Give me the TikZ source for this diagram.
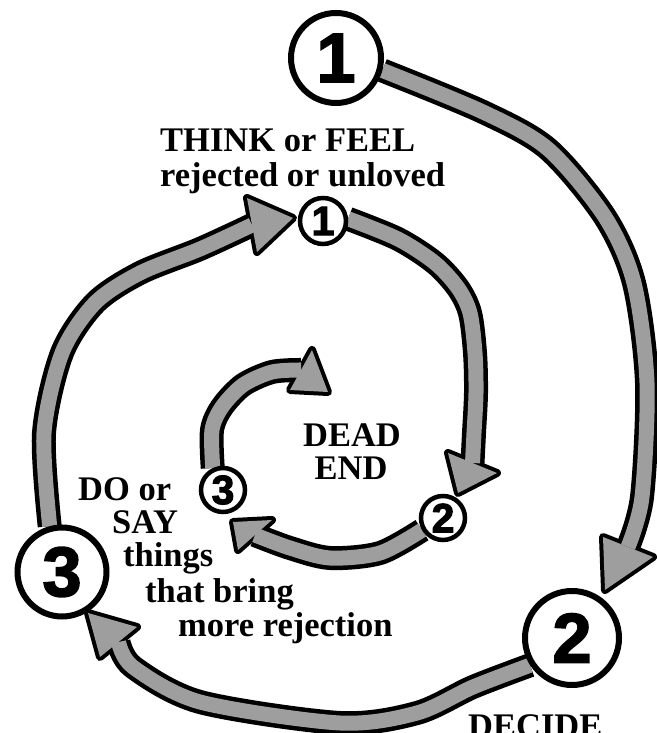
\documentclass[tikz,border=0pt]{standalone}
\usepackage{fontspec}
\setmainfont{Liberation Serif}
\newfontfamily\numfont{Liberation Sans}[BoldFeatures={FakeBold=2.5}]
\usetikzlibrary{backgrounds}
\definecolor{dotgray}{gray}{0.62}
\newcommand\arrowband[4]{%
  \draw[bandout] #1;
  \filldraw[headout] (#2) -- (#3) -- (#4) -- cycle;
  \draw[bandin] #1;
  \fill[headin] (#2) -- (#3) -- (#4) -- cycle;
}
\begin{document}
\begin{tikzpicture}[x=1pt,y=1pt,
  bandout/.style={line width=24pt, draw=black},
  bandin/.style={line width=15pt, draw=dotgray},
  headout/.style={draw=black, fill=black, line width=8pt, line join=round},
  headin/.style={fill=dotgray},
  bigc/.style={circle, draw=black, fill=white, line width=6pt, inner sep=0pt,
    font=\numfont\bfseries\fontsize{70}{70}\selectfont},
  smallc/.style={circle, draw=black, fill=white, line width=4.5pt, inner sep=0pt,
    font=\numfont\bfseries\fontsize{41}{41}\selectfont},
  txt/.style={inner sep=0pt, anchor=base west, font=\bfseries\fontsize{34.5}{34.5}\selectfont},
  ctxt/.style={txt, anchor=base}
]
\clip (0,0) rectangle (656,733);

% circles
\node[bigc, minimum size=90pt] (B1) at (336,675) {1};
\node[bigc, minimum size=94pt] (B2) at (572,95) {2};
\node[bigc, minimum size=89pt] (B3) at (62,161) {3};
\node[smallc, minimum size=46pt] (S1) at (323,512) {1};
\node[smallc, minimum size=44pt] (S2) at (443,215) {2};
\node[smallc, minimum size=44pt] (S3) at (223,243) {3};

% texts
\node[txt] (t1) at (160,581) {THINK or FEEL};
\node[txt] (t2) at (160,546) {rejected or unloved};
\node[ctxt] (dead) at (352,286) {DEAD};
\node[ctxt] (end) at (351,253) {END};
\node[txt] (do) at (78,232) {DO or};
\node[txt] (say) at (112,199) {SAY};
\node[txt] (things) at (123,166) {things};
\node[txt] (bring) at (145,130) {that bring};
\node[txt] (more) at (178,96) {more rejection};
\node[txt] (decide) at (468,-5) {DECIDE};

% arrow head coordinates
\coordinate (h1t) at (605,143); \coordinate (h1a) at (603,196); \coordinate (h1b) at (653,176); \coordinate (h1m) at (628,186);
\coordinate (h2t) at (88,120);  \coordinate (h2a) at (137,106); \coordinate (h2b) at (100,76);  \coordinate (h2m) at (118.5,91);
\coordinate (h3t) at (293,515); \coordinate (h3a) at (247,535); \coordinate (h3b) at (257,481); \coordinate (h3m) at (252,508);
\coordinate (hAt) at (458,240); \coordinate (hAa) at (448,280); \coordinate (hAb) at (497,260); \coordinate (hAm) at (472.5,270);
\coordinate (hBt) at (233,211); \coordinate (hBa) at (272,213); \coordinate (hBb) at (238,183); \coordinate (hBm) at (255,198);
\coordinate (hCt) at (328,341); \coordinate (hCa) at (312,383); \coordinate (hCb) at (290,343); \coordinate (hCm) at (301,363);

\begin{scope}[on background layer]
  \fill[white] (0,0) rectangle (656,733);
  % outer loop
  \arrowband{plot[smooth] coordinates {(B1.-15) (483,621) (548,584) (605,516) (634,450) (647,350) (642,236) (h1m)}}{h1t}{h1a}{h1b}
  \arrowband{plot[smooth] coordinates {(B2.213) (473,46) (417,20) (340,10) (200,31) (133,66) (h2m)}}{h2t}{h2a}{h2b}
  \arrowband{plot[smooth] coordinates {(B3.105) (44,300) (62,380) (95,430) (140,460) (200,484) (h3m)}}{h3t}{h3a}{h3b}
  % inner loop
  \arrowband{plot[smooth] coordinates {(S1.5) (398,494) (435,470) (458,445) (470,420) (475,380) (476,340) (474,300) (hAm)}}{hAt}{hAa}{hAb}
  \arrowband{plot[smooth] coordinates {(S2.210) (380,180) (330,175) (290,185) (hBm)}}{hBt}{hBa}{hBb}
  \arrowband{plot[smooth] coordinates {(S3.115) (212,303) (222,326) (243,348) (272,361) (hCm)}}{hCt}{hCa}{hCb}
\end{scope}
\end{tikzpicture}
\end{document}
